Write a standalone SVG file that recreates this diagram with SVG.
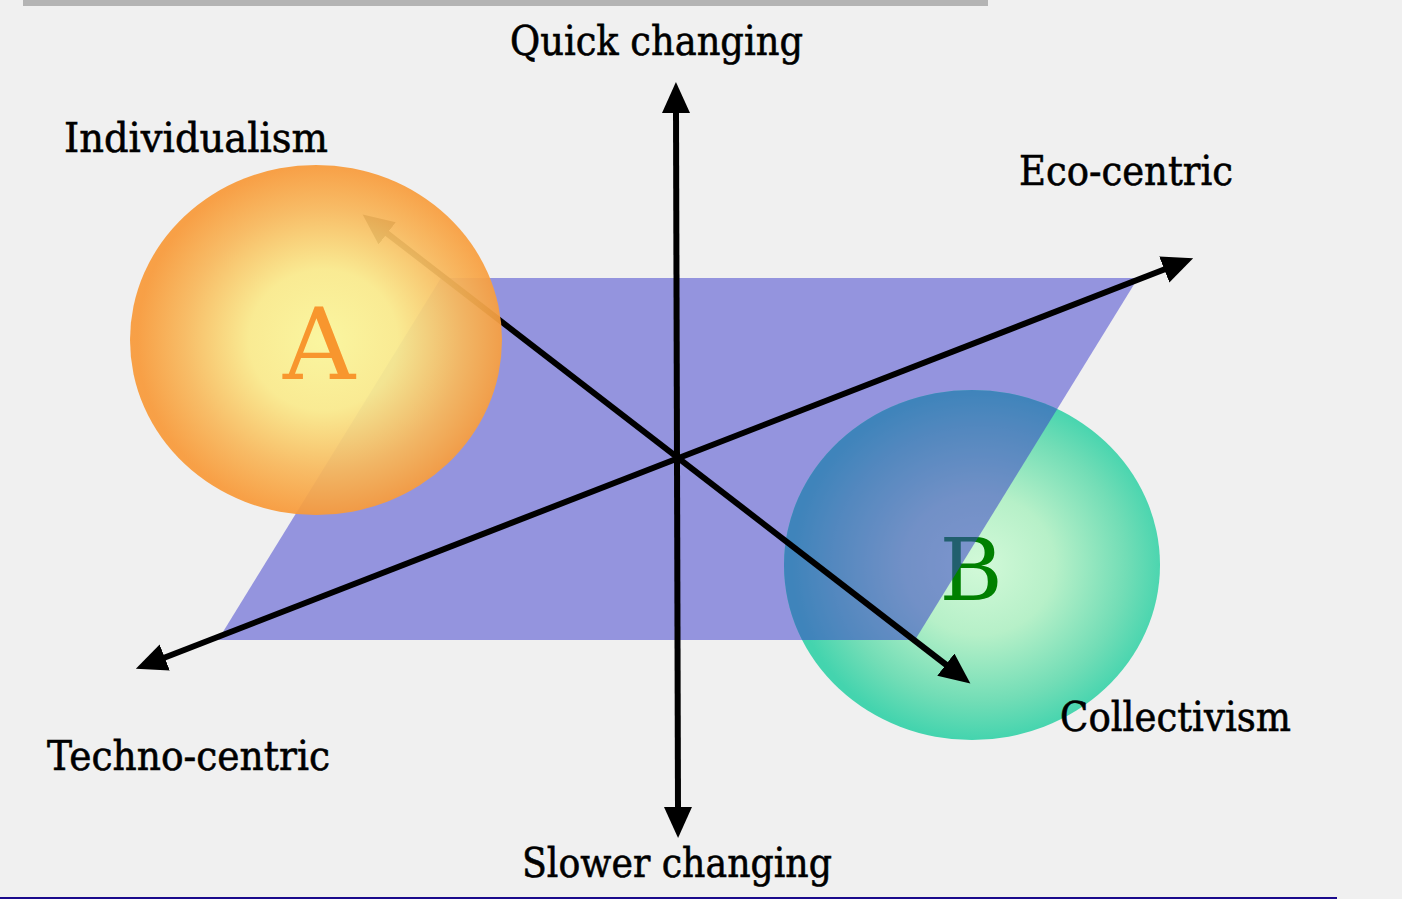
<svg xmlns="http://www.w3.org/2000/svg" width="1402" height="899" viewBox="0 0 1402 899">
  <defs>
    <radialGradient id="gA" cx="0.52" cy="0.5" r="0.5">
      <stop offset="0" stop-color="#fbf69a"/>
      <stop offset="0.4" stop-color="#faea8c"/>
      <stop offset="0.75" stop-color="#f8b85c"/>
      <stop offset="1" stop-color="#f89a3a"/>
    </radialGradient>
    <radialGradient id="gB" cx="0.52" cy="0.5" r="0.5">
      <stop offset="0" stop-color="#d2f9d8"/>
      <stop offset="0.4" stop-color="#b6f0c8"/>
      <stop offset="0.78" stop-color="#72ddb6"/>
      <stop offset="1" stop-color="#44d4ae"/>
    </radialGradient>
    <clipPath id="clipB">
      <ellipse cx="972" cy="565" rx="188" ry="175"/>
    </clipPath>
    <marker id="ah" markerUnits="userSpaceOnUse" markerWidth="34" markerHeight="30" refX="4" refY="14" orient="auto-start-reverse">
      <path d="M0,0 L31,14 L0,28 z" fill="#000"/>
    </marker>
  </defs>
  <style>
    .lbl { font-family: "DejaVu Serif", "Liberation Serif", serif; font-size: 41px; fill: #000; stroke: #000; stroke-width: 0.6; }
    .axis { stroke: #000; stroke-width: 6; fill: none; }
  </style>
  <rect x="0" y="0" width="1402" height="899" fill="#f0f0f0"/>
  <rect x="23" y="0" width="965" height="6" fill="#b4b4b4"/>
  <rect x="0" y="897" width="1337" height="2" fill="#1a0a8c"/>

  <g id="plane">
    <polygon points="441,278 1138,278 915,640 218,640" fill="#9494de"/>
  </g>

  <g id="nodeB">
    <ellipse cx="972" cy="565" rx="188" ry="175" fill="url(#gB)"/>
    <text x="971" y="600" text-anchor="middle" font-family="DejaVu Serif, Liberation Serif, serif" font-size="86" fill="#008000">B</text>
    <polygon points="441,278 1138,278 915,640 218,640" fill="#3c44c5" fill-opacity="0.555" clip-path="url(#clipB)"/>
  </g>

  <g id="connectors">
    <line class="axis" x1="676" y1="109" x2="678" y2="811" marker-start="url(#ah)" marker-end="url(#ah)"/>
    <line class="axis" x1="161" y1="659" x2="1168" y2="268" marker-start="url(#ah)" marker-end="url(#ah)"/>
    <line class="axis" x1="384" y1="231" x2="949" y2="667" marker-start="url(#ah)" marker-end="url(#ah)"/>
  </g>

  <g id="nodeA">
    <ellipse cx="316" cy="340" rx="186" ry="175" fill="url(#gA)" opacity="0.93"/>
    <text x="319" y="379" text-anchor="middle" font-family="DejaVu Serif, Liberation Serif, serif" font-size="100" fill="#f8962e">A</text>
  </g>

  <g id="labels">
    <text class="lbl" x="510" y="55" textLength="293" lengthAdjust="spacingAndGlyphs">Quick changing</text>
    <text class="lbl" x="64" y="152" textLength="264" lengthAdjust="spacingAndGlyphs">Individualism</text>
    <text class="lbl" x="1019" y="185" textLength="214" lengthAdjust="spacingAndGlyphs">Eco-centric</text>
    <text class="lbl" x="47" y="770" textLength="283" lengthAdjust="spacingAndGlyphs">Techno-centric</text>
    <text class="lbl" x="1060" y="731" textLength="231" lengthAdjust="spacingAndGlyphs">Collectivism</text>
    <text class="lbl" x="522" y="877" textLength="310" lengthAdjust="spacingAndGlyphs">Slower changing</text>
  </g>
</svg>
